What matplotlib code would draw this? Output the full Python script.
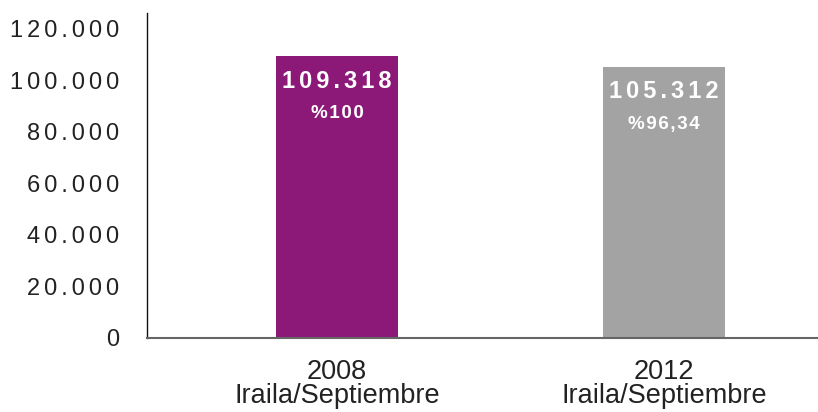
import matplotlib
matplotlib.use("Agg")
import matplotlib.pyplot as plt
from matplotlib.ticker import FuncFormatter, MultipleLocator

plt.rcParams['font.family'] = ['Liberation Sans', 'DejaVu Sans']

categories = ["2008\nIraila/Septiembre", "2012\nIraila/Septiembre"]
values = [109318, 105312]
value_labels = ["109.318", "105.312"]
pct_labels = ["%100", "%96,34"]
colors = ["#8C1878", "#A3A3A3"]

HS = "\u200a"

def spaced(s, n=1):
    return (HS * n).join(s)

fig = plt.figure(figsize=(8.18, 4.12), dpi=100)
ax = fig.add_axes([147/818, 74/412, 1 - 147/818, (338-13)/412])

x = list(range(len(categories)))
bars = ax.bar(x, values, width=0.373, color=colors)

ax.set_xlim(-0.581, 1.471)
ax.set_ylim(0, 126100)
ax.yaxis.set_major_locator(MultipleLocator(20000))
ax.yaxis.set_major_formatter(FuncFormatter(lambda v, p: spaced(f"{int(v):,}".replace(",", "."), 2)))

ax.set_xticks(x)
ax.set_xticklabels(categories, fontsize=19.5, linespacing=0.93, color="#222222")
ax.tick_params(axis='x', length=0, pad=15)
ax.tick_params(axis='y', length=0, pad=20, labelsize=17, labelcolor="#222222")

for s in ["top", "right"]:
    ax.spines[s].set_visible(False)
ax.spines["left"].set_color("#111111")
ax.spines["left"].set_linewidth(1.0)
ax.spines["bottom"].set_color("#666666")
ax.spines["bottom"].set_linewidth(1.5)

for xi, v, vl, pl in zip(x, values, value_labels, pct_labels):
    ax.annotate(spaced(vl, 2), (xi, v), xytext=(0, -18), textcoords="offset points",
                ha="center", va="center", color="white", fontsize=17, fontweight="bold")
    ax.annotate(spaced(pl), (xi, v), xytext=(0, -41.5), textcoords="offset points",
                ha="center", va="center", color="white", fontsize=13.5, fontweight="bold")

fig.savefig("out.png", dpi=100)
